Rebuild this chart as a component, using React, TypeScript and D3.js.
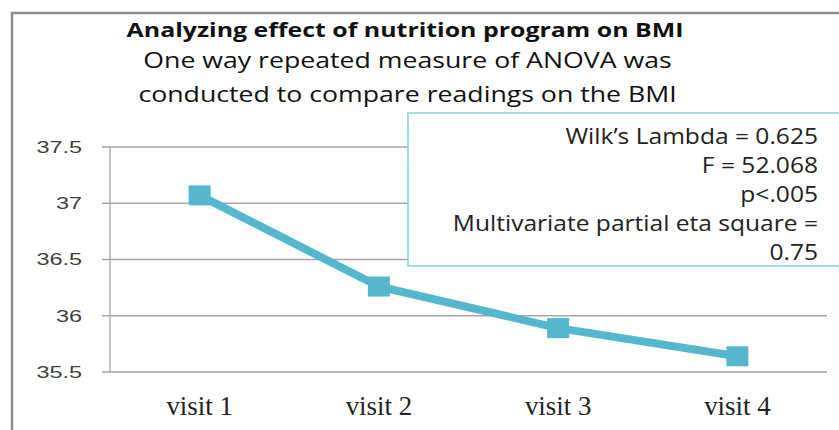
import React, { useEffect, useRef } from "react";
import * as d3 from "d3";

const visits = ["visit 1", "visit 2", "visit 3", "visit 4"];
const bmi = [37.07, 36.26, 35.89, 35.64];
const yTicks = [35.5, 36, 36.5, 37, 37.5];
const titleText = "Analyzing effect of nutrition program on BMI";
const titleLines = [
  "One way repeated measure of ANOVA was",
  "conducted to compare readings on the BMI",
];
const statLines = [
  "Wilk\u2019s Lambda = 0.625",
  "F = 52.068",
  "p<.005",
  "Multivariate partial eta square =",
  "0.75",
];

const App = () => {
  const svgRef = useRef<SVGSVGElement>(null);

  useEffect(() => {
    const width = 839, height = 430;
    const svg = d3.select(svgRef.current);
    svg.selectAll("*").remove();

    // cadre extérieur
    svg.append("path")
      .attr("d", `M12,${height} L12,13 L${width},13`)
      .attr("fill", "none")
      .attr("stroke", "#8c8c8c")
      .attr("stroke-width", 2.5);

    const x = d3.scaleBand().domain(visits).range([110, 827]);
    const y = d3.scaleLinear().domain([35.5, 37.5]).range([372, 147]);
    const cx = (v: string) => (x(v) as number) + x.bandwidth() / 2;

    // grille
    svg.append("g")
      .selectAll("line")
      .data(yTicks)
      .join("line")
      .attr("x1", 102)
      .attr("x2", 827)
      .attr("y1", d => y(d))
      .attr("y2", d => y(d))
      .attr("stroke", "#a6a6a6")
      .attr("stroke-width", 1.3);

    svg.append("line")
      .attr("x1", 110).attr("x2", 110)
      .attr("y1", y(37.5)).attr("y2", y(35.5))
      .attr("stroke", "#a6a6a6")
      .attr("stroke-width", 1.3);

    // étiquettes de l'axe y (image étirée horizontalement)
    svg.append("g")
      .selectAll("text")
      .data(yTicks)
      .join("text")
      .attr("transform", d => `translate(82,${y(d)}) scale(1.42,1)`)
      .attr("dy", "0.36em")
      .attr("text-anchor", "end")
      .style("font-family", "'Liberation Sans', Arial, sans-serif")
      .style("font-size", "16.5px")
      .attr("fill", "#404040")
      .text(d => String(d));

    svg.append("g")
      .selectAll("text")
      .data(visits)
      .join("text")
      .attr("transform", d => `translate(${cx(d)},415) scale(0.96,1)`)
      .attr("text-anchor", "middle")
      .style("font-family", "'Liberation Serif', 'Times New Roman', serif")
      .style("font-size", "28px")
      .attr("fill", "#222")
      .text(d => d);

    // ligne des moyennes
    const data = visits.map((v, i) => ({ v, val: bmi[i] }));
    const line = d3.line<{ v: string; val: number }>()
      .x(d => cx(d.v))
      .y(d => y(d.val));

    svg.append("path")
      .datum(data)
      .attr("d", line)
      .attr("fill", "none")
      .attr("stroke", "#55b7ce")
      .attr("stroke-width", 8)
      .attr("stroke-linejoin", "round");

    const mw = 22, mh = 20;
    svg.append("g")
      .selectAll("rect")
      .data(data)
      .join("rect")
      .attr("x", d => cx(d.v) - mw / 2)
      .attr("y", d => y(d.val) - mh / 2)
      .attr("width", mw)
      .attr("height", mh)
      .attr("fill", "#55b7ce");

    // titre
    svg.append("text")
      .attr("transform", "translate(405,37) scale(1.245,1)")
      .attr("text-anchor", "middle")
      .style("font-family", "'Open Sans', sans-serif")
      .style("font-weight", "bold")
      .style("font-size", "20px")
      .attr("fill", "#111")
      .text(titleText);

    svg.append("g")
      .selectAll("text")
      .data(titleLines)
      .join("text")
      .attr("transform", (d, i) => `translate(407.5,${68 + i * 34}) scale(1.27,1)`)
      .attr("text-anchor", "middle")
      .style("font-family", "'Open Sans', sans-serif")
      .style("font-size", "21px")
      .attr("fill", "#111")
      .text(d => d);

    // encadré statistiques
    svg.append("rect")
      .attr("x", 408)
      .attr("y", 113)
      .attr("width", 440)
      .attr("height", 153)
      .attr("fill", "white")
      .attr("stroke", "#8ccfe0")
      .attr("stroke-width", 1.5);

    svg.append("g")
      .selectAll("text")
      .data(statLines)
      .join("text")
      .attr("transform", (d, i) => `translate(818,${144 + i * 29}) scale(1.17,1)`)
      .attr("text-anchor", "end")
      .style("font-family", "'Open Sans', sans-serif")
      .style("font-size", "21px")
      .attr("fill", "#222")
      .text(d => d);
  }, []);

  return (
    <svg
      ref={svgRef}
      width={839}
      height={430}
      style={{ position: "absolute", left: 0, top: 0, background: "white" }}
    />
  );
};

export default App;
